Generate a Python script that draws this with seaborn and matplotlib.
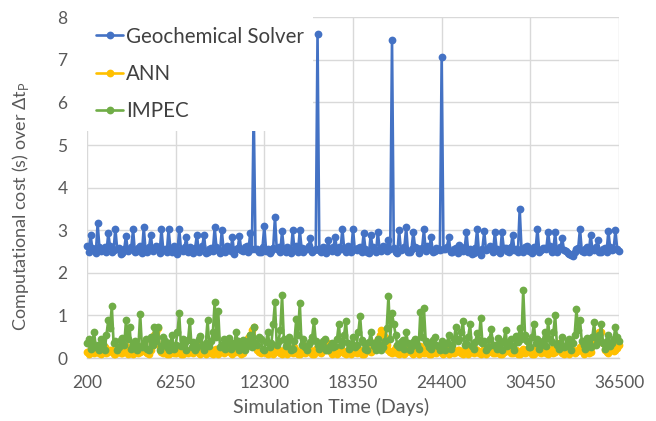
import numpy as np
import pandas as pd
import matplotlib
matplotlib.use("Agg")
import matplotlib.pyplot as plt
import seaborn as sns

# Simulation output, sampled every 121 days from day 200 to day 36500
start_day = 200
step_days = 121

geochemical_solver = [
    2.62, 2.50, 2.89, 2.58, 2.55, 2.47, 3.16, 2.60, 2.52, 2.55,
    2.60, 2.48, 2.93, 2.62, 2.50, 2.53, 3.04, 2.57, 2.58, 2.45,
    2.47, 2.56, 2.87, 2.52, 2.56, 2.61, 3.02, 2.49, 2.52, 2.58,
    2.63, 2.46, 3.07, 2.55, 2.48, 2.60, 2.90, 2.51, 2.55, 2.64,
    2.60, 2.47, 3.04, 2.53, 2.57, 2.49, 3.02, 2.58, 2.50, 2.62,
    2.56, 2.45, 3.04, 2.55, 2.52, 2.60, 2.84, 2.48, 2.61, 2.54,
    2.47, 2.59, 2.90, 2.50, 2.55, 2.63, 2.89, 2.46, 2.50, 2.57,
    2.58, 2.52, 3.07, 2.60, 2.53, 2.47, 3.00, 2.56, 2.49, 2.62,
    2.60, 2.51, 2.84, 2.45, 2.56, 2.58, 2.87, 2.53, 2.51, 2.60,
    2.62, 2.48, 2.93, 2.55, 5.90, 2.57, 2.55, 2.50, 2.48, 2.61,
    3.10, 2.52, 2.57, 2.46, 2.52, 2.58, 3.32, 2.55, 2.60, 2.49,
    2.98, 2.56, 2.50, 2.61, 2.55, 2.47, 3.00, 2.53, 2.62, 2.50,
    3.00, 2.58, 2.48, 2.55, 2.56, 2.62, 2.82, 2.49, 2.53, 2.57,
    7.60, 2.54, 2.50, 2.60, 2.58, 2.47, 2.78, 2.56, 2.52, 2.61,
    2.84, 2.50, 2.60, 2.55, 3.04, 2.58, 2.49, 2.63, 2.56, 2.48,
    3.04, 2.55, 2.53, 2.59, 2.61, 2.50, 2.93, 2.57, 2.50, 2.46,
    2.90, 2.60, 2.55, 2.49, 2.96, 2.56, 2.52, 2.62, 2.60, 2.51,
    2.77, 2.55, 7.47, 2.58, 2.50, 2.47, 3.00, 2.54, 2.57, 2.61,
    3.07, 2.50, 2.48, 2.56, 2.96, 2.60, 2.58, 2.46, 2.53, 2.59,
    3.02, 2.52, 2.62, 2.55, 2.84, 2.49, 2.51, 2.58, 2.57, 2.53,
    7.07, 2.56, 2.55, 2.61, 2.84, 2.50, 2.49, 2.57, 2.58, 2.47,
    2.65, 2.55, 2.52, 2.60, 2.96, 2.48, 2.56, 2.44, 2.47, 2.58,
    3.04, 2.50, 2.43, 2.57, 2.98, 2.53, 2.55, 2.62, 2.60, 2.49,
    2.96, 2.56, 2.52, 2.47, 2.96, 2.59, 2.58, 2.51, 2.50, 2.60,
    2.90, 2.54, 2.56, 2.49, 3.50, 2.57, 2.48, 2.61, 2.62, 2.52,
    2.55, 2.47, 2.60, 2.56, 3.04, 2.50, 2.53, 2.59, 2.58, 2.55,
    2.96, 2.62, 2.50, 2.56, 2.95, 2.48, 2.57, 2.60, 2.81, 2.53,
    2.52, 2.47, 2.45, 2.42, 2.40, 2.50, 2.56, 2.58, 3.04, 2.52,
    2.50, 2.57, 2.60, 2.48, 2.90, 2.55, 2.54, 2.61, 2.77, 2.50,
    2.50, 2.56, 2.58, 2.49, 2.98, 2.60, 2.53, 2.57, 3.00, 2.55,
    2.52,
]

ann = [
    0.15, 0.10, 0.30, 0.18, 0.12, 0.22, 0.20, 0.12, 0.10, 0.16,
    0.25, 0.12, 0.14, 0.20, 0.18, 0.10, 0.10, 0.15, 0.22, 0.12,
    0.12, 0.18, 0.28, 0.10, 0.15, 0.22, 0.10, 0.14, 0.20, 0.12,
    0.13, 0.20, 0.35, 0.15, 0.12, 0.10, 0.18, 0.30, 0.55, 0.62,
    0.70, 0.25, 0.15, 0.12, 0.22, 0.10, 0.10, 0.16, 0.18, 0.12,
    0.12, 0.20, 0.25, 0.10, 0.10, 0.18, 0.16, 0.12, 0.20, 0.14,
    0.12, 0.22, 0.30, 0.12, 0.10, 0.16, 0.15, 0.10, 0.22, 0.18,
    0.12, 0.10, 0.18, 0.22, 0.10, 0.14, 0.25, 0.12, 0.13, 0.20,
    0.20, 0.12, 0.10, 0.16, 0.15, 0.22, 0.28, 0.10, 0.12, 0.30,
    0.40, 0.48, 0.55, 0.65, 0.73, 0.35, 0.20, 0.14, 0.12, 0.18,
    0.18, 0.12, 0.10, 0.20, 0.25, 0.10, 0.14, 0.22, 0.20, 0.12,
    0.10, 0.18, 0.16, 0.10, 0.22, 0.14, 0.12, 0.25, 0.18, 0.10,
    0.10, 0.16, 0.30, 0.12, 0.14, 0.20, 0.20, 0.10, 0.10, 0.22,
    0.25, 0.14, 0.12, 0.18, 0.18, 0.25, 0.35, 0.16, 0.10, 0.12,
    0.22, 0.10, 0.14, 0.20, 0.20, 0.12, 0.10, 0.18, 0.16, 0.10,
    0.28, 0.15, 0.12, 0.22, 0.18, 0.10, 0.10, 0.14, 0.22, 0.18,
    0.14, 0.20, 0.30, 0.38, 0.45, 0.55, 0.66, 0.58, 0.50, 0.30,
    0.20, 0.14, 0.12, 0.18, 0.25, 0.12, 0.10, 0.20, 0.18, 0.10,
    0.14, 0.25, 0.22, 0.12, 0.10, 0.18, 0.16, 0.10, 0.28, 0.14,
    0.12, 0.22, 0.20, 0.10, 0.10, 0.16, 0.15, 0.12, 0.25, 0.18,
    0.12, 0.10, 0.18, 0.24, 0.10, 0.14, 0.22, 0.12, 0.14, 0.20,
    0.20, 0.12, 0.10, 0.18, 0.16, 0.10, 0.25, 0.15, 0.12, 0.22,
    0.18, 0.12, 0.10, 0.16, 0.22, 0.10, 0.14, 0.20, 0.30, 0.12,
    0.12, 0.18, 0.20, 0.10, 0.10, 0.14, 0.16, 0.22, 0.25, 0.12,
    0.12, 0.20, 0.18, 0.10, 0.10, 0.16, 0.22, 0.12, 0.14, 0.18,
    0.20, 0.10, 0.10, 0.22, 0.28, 0.14, 0.12, 0.20, 0.18, 0.12,
    0.10, 0.16, 0.22, 0.12, 0.14, 0.25, 0.35, 0.18, 0.12, 0.10,
    0.20, 0.14, 0.10, 0.22, 0.18, 0.12, 0.14, 0.20, 0.25, 0.16,
    0.10, 0.18, 0.20, 0.12, 0.14, 0.28, 0.40, 0.48, 0.55, 0.62,
    0.60, 0.35, 0.20, 0.14, 0.12, 0.22, 0.25, 0.16, 0.18, 0.24,
    0.30,
]

impec = [
    0.35, 0.45, 0.22, 0.38, 0.60, 0.25, 0.30, 0.18, 0.45, 0.32,
    0.20, 0.55, 0.89, 0.70, 1.22, 0.35, 0.40, 0.20, 0.25, 0.42,
    0.48, 0.30, 0.89, 0.45, 0.72, 0.22, 0.30, 0.40, 0.18, 0.28,
    1.03, 0.25, 0.35, 0.45, 0.22, 0.18, 0.50, 0.30, 0.74, 0.40,
    0.72, 0.20, 0.28, 0.50, 0.40, 0.25, 0.18, 0.35, 0.55, 0.22,
    0.30, 0.60, 1.05, 0.28, 0.45, 0.38, 0.20, 0.42, 0.87, 0.25,
    0.38, 0.20, 0.25, 0.45, 0.52, 0.30, 0.18, 0.35, 0.89, 0.28,
    0.40, 0.62, 1.31, 0.50, 1.10, 0.25, 0.30, 0.45, 0.22, 0.35,
    0.48, 0.22, 0.35, 0.28, 0.60, 0.40, 0.20, 0.30, 0.42, 0.18,
    0.28, 0.40, 0.55, 0.25, 0.72, 0.35, 0.30, 0.50, 0.45, 0.22,
    0.20, 0.38, 0.62, 0.25, 0.35, 0.80, 1.31, 0.30, 0.40, 0.65,
    1.48, 0.45, 0.28, 0.35, 0.50, 0.20, 0.22, 0.40, 0.92, 0.55,
    1.30, 0.30, 0.45, 0.25, 0.18, 0.32, 0.38, 0.50, 0.87, 0.40,
    0.30, 0.22, 0.25, 0.40, 0.45, 0.18, 0.20, 0.28, 0.35, 0.25,
    0.28, 0.45, 0.81, 0.30, 0.40, 0.55, 0.87, 0.35, 0.22, 0.30,
    0.50, 0.25, 0.30, 0.60, 0.99, 0.42, 0.35, 0.22, 0.20, 0.38,
    0.60, 0.35, 0.28, 0.20, 0.45, 0.30, 0.18, 0.25, 0.40, 0.70,
    1.46, 0.45, 1.05, 0.80, 0.55, 0.30, 0.25, 0.38, 0.42, 0.22,
    0.60, 0.35, 0.20, 0.28, 0.38, 0.45, 0.30, 0.22, 1.09, 0.50,
    1.17, 0.40, 0.35, 0.25, 0.22, 0.42, 0.50, 0.30, 0.28, 0.20,
    0.40, 0.28, 0.18, 0.35, 0.55, 0.22, 0.30, 0.45, 0.74, 0.40,
    0.45, 0.60, 0.87, 0.30, 0.35, 0.50, 0.80, 0.28, 0.22, 0.38,
    0.58, 0.42, 0.95, 0.35, 0.40, 0.20, 0.25, 0.45, 0.67, 0.30,
    0.30, 0.22, 0.48, 0.35, 0.20, 0.40, 0.65, 0.28, 0.35, 0.45,
    0.28, 0.20, 0.52, 0.38, 0.70, 0.45, 1.60, 0.55, 0.40, 0.25,
    0.25, 0.50, 0.81, 0.35, 0.45, 0.22, 0.30, 0.40, 0.60, 0.28,
    0.87, 0.45, 0.38, 0.60, 1.01, 0.30, 0.22, 0.35, 0.50, 0.25,
    0.28, 0.40, 0.45, 0.20, 0.35, 0.55, 1.14, 0.65, 0.89, 0.40,
    0.30, 0.22, 0.48, 0.35, 0.25, 0.50, 0.84, 0.30, 0.40, 0.55,
    0.80, 0.35, 0.22, 0.40, 0.55, 0.28, 0.35, 0.45, 0.74, 0.50,
    0.40,
]

series_names = ["Geochemical Solver", "ANN", "IMPEC"]
series_colors = ["#4472C4", "#FFC000", "#70AD47"]
x_ticks = [200, 6250, 12300, 18350, 24400, 30450, 36500]
y_ticks = [0, 1, 2, 3, 4, 5, 6, 7, 8]

days = start_day + step_days * np.arange(len(geochemical_solver))
frames = []
for name, vals in zip(series_names, [geochemical_solver, ann, impec]):
    frames.append(pd.DataFrame({"day": days, "cost": vals, "series": name}))
df = pd.concat(frames, ignore_index=True)

sns.set_style("white")
plt.rcParams["font.family"] = ["Lato", "DejaVu Sans"]

fig, ax = plt.subplots(figsize=(6.56, 4.21), dpi=100)
fig.subplots_adjust(left=0.1326, right=0.9436, top=0.9589, bottom=0.1496)

for name, color in zip(series_names, series_colors):
    sub = df[df["series"] == name]
    sns.lineplot(data=sub, x="day", y="cost", ax=ax, color=color, label=name,
                 marker="o", markersize=5.6, markeredgewidth=0, linewidth=1.9,
                 errorbar=None, sort=False, clip_on=False, zorder=3)

ax.set_xlim(x_ticks[0], x_ticks[-1])
ax.set_ylim(0, 8)
ax.set_xticks(x_ticks)
ax.set_yticks(y_ticks)
ax.grid(True, color="#D9D9D9", linewidth=1.0)
ax.set_axisbelow(True)
for side in ["top", "right", "left"]:
    ax.spines[side].set_visible(False)
ax.spines["bottom"].set_color("#D0D0D0")
ax.spines["bottom"].set_linewidth(1.0)
ax.tick_params(axis="both", length=0, labelsize=12.5, labelcolor="#595959")
ax.tick_params(axis="y", pad=14)
ax.tick_params(axis="x", pad=12)

ax.set_xlabel("Simulation Time (Days)", fontsize=14, color="#595959")
ax.xaxis.set_label_coords(0.459, -0.117)
ax.set_ylabel("Computational cost (s) over Δt$_\\mathregular{P}$", fontsize=13,
              color="#595959")
ax.yaxis.set_label_coords(-0.105, 0.446)

leg = ax.legend(loc="upper left", frameon=True, fontsize=14.8, borderaxespad=0,
                handlelength=1.3, handletextpad=0.15, labelspacing=0.85,
                borderpad=0.45, fancybox=False)
leg.get_frame().set_facecolor("white")
leg.get_frame().set_edgecolor("none")
leg.get_frame().set_alpha(1.0)
for t in leg.get_texts():
    t.set_color("#404040")

fig.savefig("out.png", dpi=100)
